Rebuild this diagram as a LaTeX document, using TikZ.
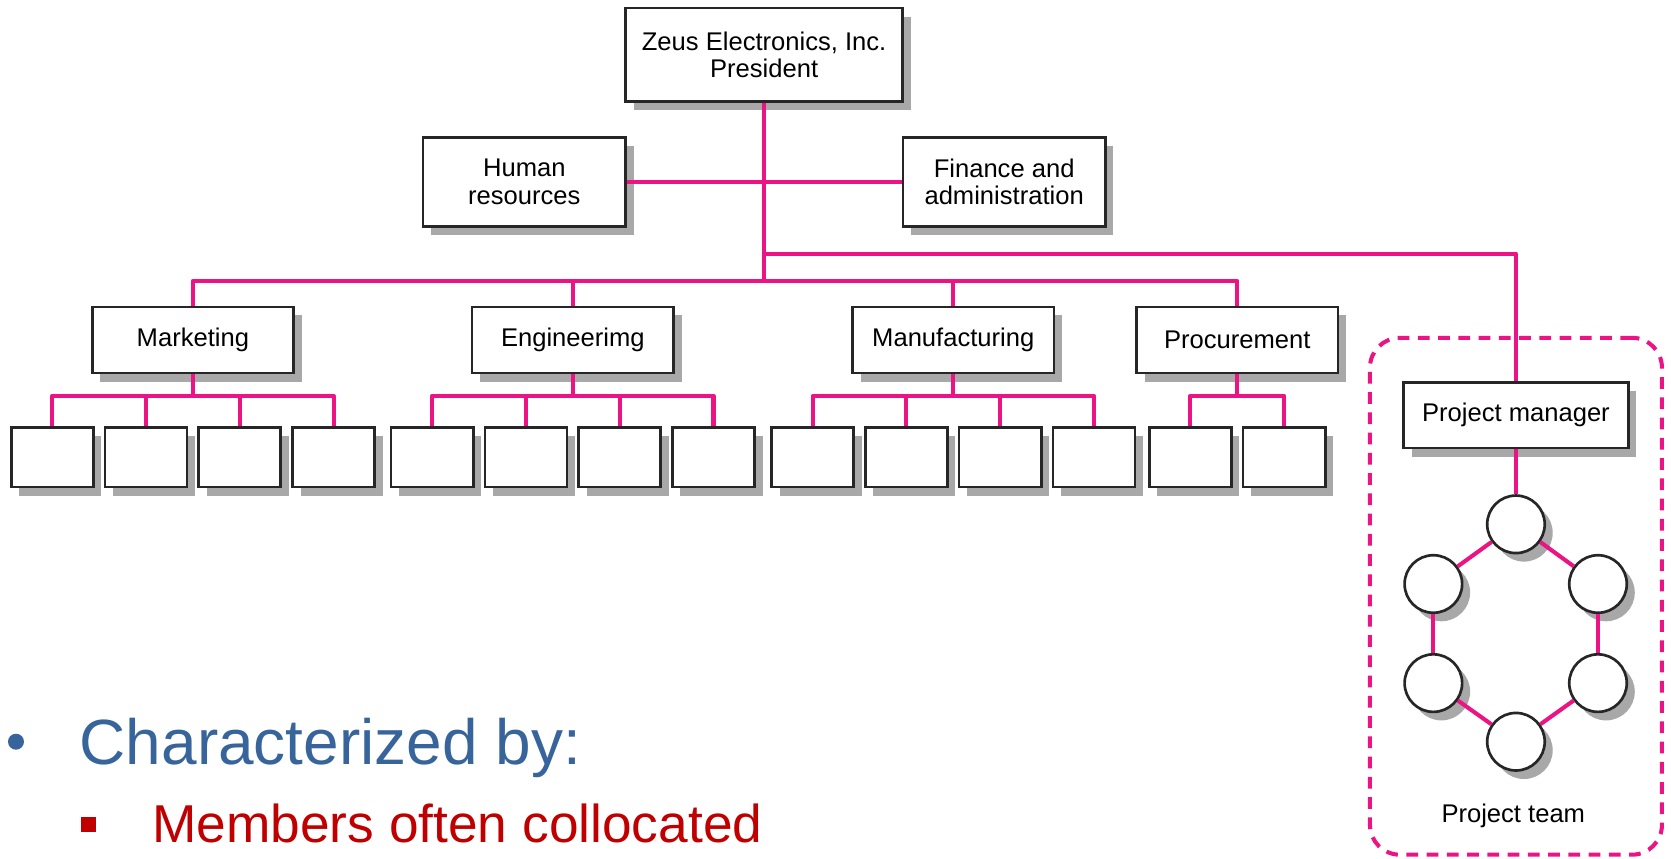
\documentclass[tikz,border=0pt]{standalone}
\usepackage{fontspec}
\setmainfont{Liberation Sans}
\usetikzlibrary{shadows}

\definecolor{linkpink}{RGB}{236,20,132}
\definecolor{headblue}{RGB}{55,101,155}
\definecolor{pointred}{RGB}{192,0,0}
\definecolor{shadowgray}{RGB}{168,168,168}

\tikzset{
  orgbox/.style={draw=black!85, line width=1.25pt, fill=white, inner sep=0pt,
    align=center, font=\fontsize{12}{13}\selectfont,
    drop shadow={shadow xshift=3.75pt, shadow yshift=-4pt, fill=shadowgray, opacity=1}},
  deptbox/.style={orgbox, minimum width=94.5pt, minimum height=31pt},
  unitbox/.style={orgbox, minimum width=38.5pt, minimum height=28pt},
  member/.style={orgbox, circle, minimum size=27pt},
  link/.style={draw=linkpink, line width=1.9pt, line join=round},
  teamframe/.style={draw=linkpink, line width=1.9pt, dash pattern=on 5.5pt off 4pt,
    rounded corners=14pt, inner sep=0pt, minimum width=137pt, minimum height=242.5pt},
}

\begin{document}
\begin{tikzpicture}[x=0.5pt,y=-0.5pt]
\useasboundingbox (0,0) rectangle (1568,806);

% project team frame
\node[teamframe] (team) at (1422.5,559.5) {};

% top of the hierarchy
\node[orgbox, minimum width=130pt, minimum height=44pt] (pres) at (717,51.5)
  {Zeus Electronics, Inc.\\President};
\node[orgbox, minimum width=95pt, minimum height=42pt] (hr) at (492,170.75)
  {Human\\resources};
\node[orgbox, minimum width=95pt, minimum height=42pt] (fin) at (942.25,170.75)
  {Finance and\\administration};

% functional departments
\node[deptbox] (mkt)  at (181,319)    {Marketing};
\node[deptbox] (eng)  at (537.5,319)  {Engineerimg};
\node[deptbox] (man)  at (894.5,319)  {Manufacturing};
\node[deptbox] (proc) at (1161,319)   {Procurement};

% units under each department
\foreach \i/\dx in {1/-132,2/-44,3/44,4/132} {
  \node[unitbox] (mkt\i) at (181+\dx,429) {};
  \node[unitbox] (eng\i) at (537.5+\dx,429) {};
  \node[unitbox] (man\i) at (894.5+\dx,429) {};
}
\foreach \i/\dx in {1/-44,2/44}
  \node[unitbox] (proc\i) at (1161+\dx,429) {};

% project manager and team members
\node[orgbox, minimum width=105.5pt, minimum height=30.75pt] (pm) at (1422.5,389.75)
  {Project manager};
\node[member] (c1) at (1422.5,492) {};
\node[member] (c2) at (1499.5,548) {};
\node[member] (c3) at (1499.5,641) {};
\node[member] (c4) at (1422.5,696) {};
\node[member] (c5) at (1345,641) {};
\node[member] (c6) at (1345,548) {};
\node[font=\fontsize{12}{13}\selectfont, anchor=base, inner sep=0pt] (teamlbl)
  at (1420,772) {Project team};

% connector levels
\coordinate (pmy)  at (0,238);
\coordinate (busy) at (0,263.5);
\coordinate (suby) at (0,371.5);

% connectors
\draw[link] (hr.east) -- (fin.west);
\draw[link] (pres.south) -- (pres.south |- busy);
\draw[link] (mkt.north) -- (mkt.north |- busy) -- (proc.north |- busy) -- (proc.north);
\draw[link] (eng.north) -- (eng.north |- busy);
\draw[link] (man.north) -- (man.north |- busy);
\draw[link] (pres.south |- pmy) -- (pm.north |- pmy) -- (pm.north);

\foreach \d in {mkt,eng,man} {
  \draw[link] (\d.south) -- (\d.south |- suby);
  \draw[link] (\d1.north) -- (\d1.north |- suby) -- (\d4.north |- suby) -- (\d4.north);
  \draw[link] (\d2.north) -- (\d2.north |- suby);
  \draw[link] (\d3.north) -- (\d3.north |- suby);
}
\draw[link] (proc.south) -- (proc.south |- suby);
\draw[link] (proc1.north) -- (proc1.north |- suby) -- (proc2.north |- suby) -- (proc2.north);

\draw[link] (pm.south) -- (c1.north);
\foreach \a/\b in {c1/c2,c2/c3,c3/c4,c4/c5,c5/c6,c6/c1}
  \draw[link] (\a) -- (\b);

% bullet text
\node[circle, fill=headblue, minimum size=7.5pt, inner sep=0pt] (dot) at (15,696) {};
\node[anchor=base west, inner sep=0pt, text=headblue, font=\fontsize{30}{36}\selectfont]
  (head) at (74.5,717) {Characterized by:};
\node[rectangle, fill=pointred, minimum size=7.25pt, inner sep=0pt] (sq) at (83,773.5) {};
\node[anchor=base west, inner sep=0pt, text=pointred, font=\fontsize{25}{30}\selectfont]
  (point) at (142.5,791) {Members often collocated};
\end{tikzpicture}
\end{document}
